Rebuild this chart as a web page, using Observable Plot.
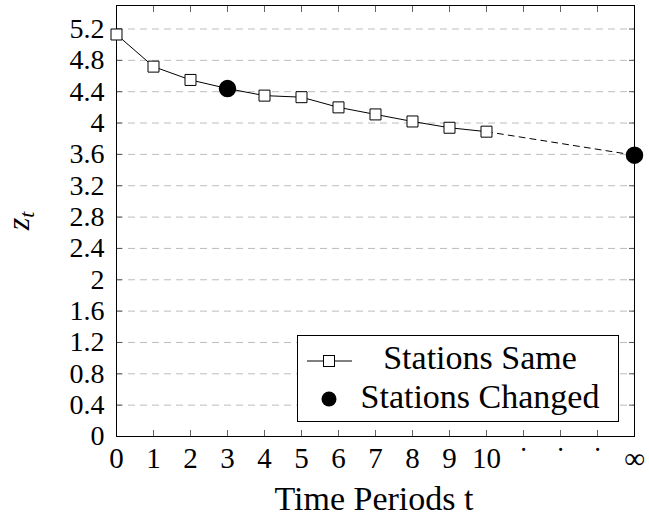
<!DOCTYPE html>
<html>
<head>
<meta charset="utf-8">
<script src="https://cdn.jsdelivr.net/npm/d3@7"></script>
<script src="https://cdn.jsdelivr.net/npm/@observablehq/plot@0.6"></script>
<style>
  html, body { margin: 0; padding: 0; background: white; }
</style>
</head>
<body>
<div id="chart"></div>
<script>
// ---- data ----
const periods = [0, 1, 2, 3, 4, 5, 6, 7, 8, 9, 10];
const zSame = [5.13, 4.72, 4.55, 4.44, 4.35, 4.33, 4.20, 4.11, 4.02, 3.94, 3.89];
const changedT = [3, 14];
const changedZ = [4.44, 3.59];
const extrapT = [10, 14];
const extrapZ = [3.89, 3.59];
const xTickPos = [0, 1, 2, 3, 4, 5, 6, 7, 8, 9, 10, 11, 12, 13, 14];
const xTickLabels = ["0", "1", "2", "3", "4", "5", "6", "7", "8", "9", "10", "˙", "˙", "˙", "∞"];
const yTicks = [0, 0.4, 0.8, 1.2, 1.6, 2, 2.4, 2.8, 3.2, 3.6, 4, 4.4, 4.8, 5.2];
const legendLabels = ["Stations Same", "Stations Changed"];
const xLabel = "Time Periods t";

const sameData = periods.map((t, i) => ({t, z: zSame[i]}));
const changedData = changedT.map((t, i) => ({t, z: changedZ[i]}));
const extrapData = extrapT.map((t, i) => ({t, z: extrapZ[i]}));

const FONT = "'Liberation Serif', 'Times New Roman', serif";
const fmtY = d => String(+d.toFixed(1));

const chart = Plot.plot({
  width: 649,
  height: 516,
  marginLeft: 116,
  marginRight: 15,
  marginTop: 5,
  marginBottom: 80,
  style: {fontFamily: FONT, fontSize: "28px", color: "black", background: "white"},
  x: {domain: [0, 14], label: null},
  y: {domain: [0, 5.5], label: null},
  marks: [
    Plot.gridY(yTicks.filter(d => d > 0), {stroke: "#bdbdbd", strokeOpacity: 1, strokeDasharray: "7,5"}),
    // inward tick marks
    Plot.axisX(xTickPos, {anchor: "bottom", tickSize: 6, dy: -6, tickFormat: () => "", label: null, stroke: "#666"}),
    Plot.axisX(xTickPos, {anchor: "top", tickSize: 6, dy: 6, tickFormat: () => "", label: null, stroke: "#666"}),
    Plot.axisY(yTicks, {anchor: "left", tickSize: 6, dx: 6, tickFormat: () => "", label: null, stroke: "#555"}),
    Plot.axisY(yTicks, {anchor: "right", tickSize: 6, dx: -6, tickFormat: () => "", label: null, stroke: "#555"}),
    // tick labels
    Plot.axisX(xTickPos, {anchor: "bottom", tickSize: 0, tickPadding: 11, tickFormat: i => xTickLabels[i], fontSize: 29, label: null}),
    Plot.axisY(yTicks, {anchor: "left", tickSize: 0, tickPadding: 12, tickFormat: fmtY, fontSize: 28, label: null}),
    Plot.frame({stroke: "black", strokeWidth: 1}),
    Plot.line(extrapData, {x: "t", y: "z", stroke: "black", strokeWidth: 1, strokeDasharray: "6,5"}),
    Plot.line(sameData, {x: "t", y: "z", stroke: "black", strokeWidth: 1}),
    Plot.dot(sameData, {x: "t", y: "z", symbol: "square", r: 6.2, fill: "white", stroke: "black", strokeWidth: 1}),
    Plot.dot(changedData, {x: "t", y: "z", r: 8, fill: "black", stroke: "black"})
  ]
});

const svg = d3.select(chart);

// x-axis label
svg.append("text")
  .attr("x", 374).attr("y", 510)
  .attr("text-anchor", "middle")
  .attr("font-family", FONT).attr("font-size", 34)
  .attr("fill", "black")
  .text(xLabel);

// y-axis label z_t
const yl = svg.append("text")
  .attr("transform", "translate(29,221) rotate(-90)")
  .attr("text-anchor", "middle")
  .attr("font-family", FONT).attr("font-size", 32)
  .attr("fill", "black");
yl.append("tspan").attr("font-style", "italic").text("z");
yl.append("tspan").attr("font-style", "italic").attr("font-size", 22).attr("dy", 5).text("t");

// legend
const lg = svg.append("g").attr("font-family", FONT).attr("font-size", 34);
lg.append("rect").attr("x", 297.5).attr("y", 335.5).attr("width", 321).attr("height", 86)
  .attr("fill", "white").attr("stroke", "black").attr("stroke-width", 1);
lg.append("line").attr("x1", 307).attr("x2", 352).attr("y1", 361).attr("y2", 361)
  .attr("stroke", "black").attr("stroke-width", 1);
lg.append("rect").attr("x", 323.5).attr("y", 355.5).attr("width", 11).attr("height", 11)
  .attr("fill", "white").attr("stroke", "black").attr("stroke-width", 1);
lg.append("circle").attr("cx", 329).attr("cy", 399).attr("r", 7.5).attr("fill", "black");
lg.append("text").attr("x", 480).attr("y", 369).attr("text-anchor", "middle").attr("fill", "black").text(legendLabels[0]);
lg.append("text").attr("x", 480).attr("y", 408).attr("text-anchor", "middle").attr("fill", "black").text(legendLabels[1]);

document.getElementById("chart").appendChild(chart);
</script>
</body>
</html>
